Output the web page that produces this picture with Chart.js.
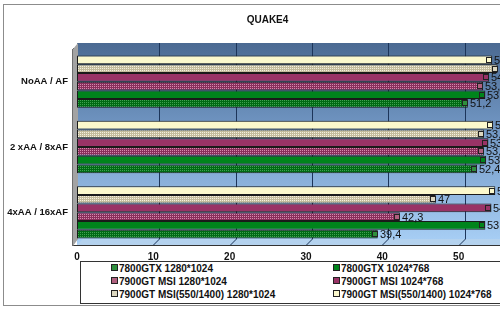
<!DOCTYPE html>
<html>
<head>
<meta charset="utf-8">
<script src="https://cdn.jsdelivr.net/npm/chart.js@4/dist/chart.umd.min.js"></script>
<style>
  html, body { margin: 0; padding: 0; background: #fff; }
  body { width: 500px; height: 311px; overflow: hidden; position: relative; font-family: "Liberation Sans", Arial, sans-serif; }
  #frame { position: absolute; left: 3px; top: 4px; width: 560px; height: 300px; border: 1px solid #8c8c8c; }
  #chart { position: absolute; left: 0; top: 0; }
  #legend { position: absolute; left: 80px; top: 261px; width: 480px; height: 41px; border: 1px solid #333; background: #fff; }
  .item { position: absolute; font-size: 10px; font-weight: bold; color: #111; white-space: nowrap; line-height: 12px; }
  .key { display: inline-block; width: 5px; height: 5px; border: 1px solid #222; margin-right: 1px; vertical-align: 1px; }
</style>
</head>
<body>
<div id="frame"></div>
<canvas id="chart" width="552" height="311"></canvas>
<div id="legend"></div>

<script>
// categories, top to bottom as in the picture
const categories = ['NoAA / AF', '2 xAA / 8xAF', '4xAA / 16xAF'];

// fps per card / resolution
const gtx1280 = [51.2, 52.4, 39.4];
const gtx1024 = [53.5, 53.6, 53.5];
const msi1280 = [53.2, 53.3, 42.3];
const msi1024 = [54.0, 53.9, 54.3];
const oc1280 = [55.1, 53.3, 47];
const oc1024 = [54.4, 54.5, 54.8];

const seriesNames = [
  '7800GTX 1280*1024', '7800GTX 1024*768',
  '7900GT MSI 1280*1024', '7900GT MSI 1024*768',
  '7900GT MSI(550/1400) 1280*1024', '7900GT MSI(550/1400) 1024*768'
];

const xTicks = [0, 10, 20, 30, 40, 50, 60];

function dotPattern(base, dot) {
  const c = document.createElement('canvas');
  c.width = 2; c.height = 2;
  const g = c.getContext('2d');
  g.fillStyle = base;
  g.fillRect(0, 0, 2, 2);
  g.fillStyle = dot;
  g.fillRect(0, 0, 1, 1);
  return g.createPattern(c, 'repeat');
}

const ctx = document.getElementById('chart').getContext('2d');

const fills = {
  gtx1280: dotPattern('#006a14', '#3fa050'),
  gtx1024: '#00841c',
  msi1280: dotPattern('#8a2f5c', '#d48aac'),
  msi1024: '#993366',
  oc1280: dotPattern('#c4bc9c', '#f4f0e0'),
  oc1024: '#fbf8cc'
};
const keyColors = ['#2f8f3c', '#00841c', '#b0607f', '#993366', '#ddd8c0', '#fbf8cc'];

// drawn top to bottom within each group
const datasets = [
  { label: seriesNames[5], data: oc1024, backgroundColor: fills.oc1024, key: keyColors[5] },
  { label: seriesNames[4], data: oc1280, backgroundColor: fills.oc1280, key: keyColors[4] },
  { label: seriesNames[3], data: msi1024, backgroundColor: fills.msi1024, key: keyColors[3] },
  { label: seriesNames[2], data: msi1280, backgroundColor: fills.msi1280, key: keyColors[2] },
  { label: seriesNames[1], data: gtx1024, backgroundColor: fills.gtx1024, key: keyColors[1] },
  { label: seriesNames[0], data: gtx1280, backgroundColor: fills.gtx1280, key: keyColors[0] }
].map(d => Object.assign(d, {
  borderColor: '#1a1a1a',
  borderWidth: 1,
  borderSkipped: false,
  categoryPercentage: 0.8,
  barPercentage: 1
}));

const DEPTH = 6;

// back wall, left wall, floor and back gridlines
const wallPlugin = {
  id: 'wall',
  beforeDatasetsDraw(chart) {
    const a = chart.chartArea;
    const x = chart.scales.x;
    const c = chart.ctx;
    c.save();
    const grad = c.createLinearGradient(0, a.top - DEPTH, 0, a.bottom);
    grad.addColorStop(0, '#4b6a92');
    grad.addColorStop(0.45, '#7399c6');
    grad.addColorStop(1, '#a9d0f6');
    c.fillStyle = grad;
    c.fillRect(a.left, a.top - DEPTH, a.right + DEPTH - a.left, a.bottom - a.top + DEPTH);

    // floor strip
    c.fillStyle = '#b4d2ee';
    c.beginPath();
    c.moveTo(a.left, a.bottom);
    c.lineTo(a.left + DEPTH, a.bottom - DEPTH);
    c.lineTo(a.right + DEPTH, a.bottom - DEPTH);
    c.lineTo(a.right, a.bottom);
    c.closePath();
    c.fill();

    c.strokeStyle = '#1c355a';
    c.lineWidth = 1;
    xTicks.forEach(t => {
      if (t === 0) return;
      const px = Math.round(x.getPixelForValue(t)) + 0.5;
      c.beginPath();
      c.moveTo(px + DEPTH, a.top - DEPTH);
      c.lineTo(px + DEPTH, a.bottom - DEPTH);
      c.lineTo(px, a.bottom);
      c.stroke();
    });

    // left wall
    c.fillStyle = '#a3a3a3';
    c.beginPath();
    c.moveTo(a.left - 4, a.top);
    c.lineTo(a.left + 1, a.top - DEPTH);
    c.lineTo(a.left + 1, a.bottom - DEPTH);
    c.lineTo(a.left - 4, a.bottom + 1);
    c.closePath();
    c.fill();
    c.strokeStyle = '#6e6e6e';
    c.beginPath();
    c.moveTo(a.left - 4.5, a.top);
    c.lineTo(a.left - 4.5, a.bottom + 1);
    c.stroke();
    c.restore();
  }
};

// value labels with legend key square
const labelPlugin = {
  id: 'valueLabels',
  afterDatasetsDraw(chart) {
    const c = chart.ctx;
    c.save();
    c.font = '11px "Liberation Sans", Arial, sans-serif';
    c.textBaseline = 'middle';
    chart.data.datasets.forEach((ds, i) => {
      chart.getDatasetMeta(i).data.forEach((bar, j) => {
        const bx = Math.round(bar.x);
        const by = Math.round(bar.y);
        c.fillStyle = ds.key;
        c.fillRect(bx - 6, by - 3, 6, 6);
        c.strokeStyle = '#222';
        c.strokeRect(bx - 5.5, by - 2.5, 5, 5);
        c.fillStyle = '#111';
        c.fillText(String(ds.data[j]).replace('.', ','), bx + 2, by + 1);
      });
    });
    c.restore();
  }
};

new Chart(ctx, {
  type: 'bar',
  data: { labels: categories, datasets: datasets },
  options: {
    indexAxis: 'y',
    responsive: false,
    animation: false,
    devicePixelRatio: 1,
    layout: { padding: { left: 0, right: 17, top: 0, bottom: 48 } },
    plugins: {
      legend: { display: false },
      tooltip: { enabled: false },
      title: {
        display: true,
        text: 'QUAKE4',
        color: '#111',
        font: { family: '"Liberation Sans", Arial, sans-serif', size: 10, weight: 'bold' },
        padding: { top: 14, bottom: 23 }
      }
    },
    scales: {
      x: {
        min: 0,
        max: 60,
        afterBuildTicks: s => { s.ticks = xTicks.map(v => ({ value: v })); },
        afterFit: s => { s.height = 18; },
        grid: { display: false, drawTicks: false },
        border: { display: true, color: '#333' },
        ticks: {
          color: '#111',
          padding: 6,
          font: { family: '"Liberation Sans", Arial, sans-serif', size: 10, weight: 'bold' }
        }
      },
      y: {
        afterFit: s => { s.width = 77; },
        grid: { drawOnChartArea: false, drawTicks: true, tickLength: 4, color: '#333', offset: true },
        border: { display: false },
        ticks: {
          color: '#111',
          padding: 5,
          font: { family: '"Liberation Sans", Arial, sans-serif', size: 9.5, weight: 'bold' }
        }
      }
    }
  },
  plugins: [wallPlugin, labelPlugin]
});

// legend in two columns, as in the original
const legend = document.getElementById('legend');
seriesNames.forEach((name, i) => {
  const el = document.createElement('div');
  el.className = 'item';
  el.style.left = (i % 2 === 0 ? 30 : 252) + 'px';
  el.style.top = (1 + Math.floor(i / 2) * 13) + 'px';
  const key = document.createElement('span');
  key.className = 'key';
  key.style.background = keyColors[i];
  el.appendChild(key);
  el.appendChild(document.createTextNode(name));
  legend.appendChild(el);
});
</script>
</body>
</html>
